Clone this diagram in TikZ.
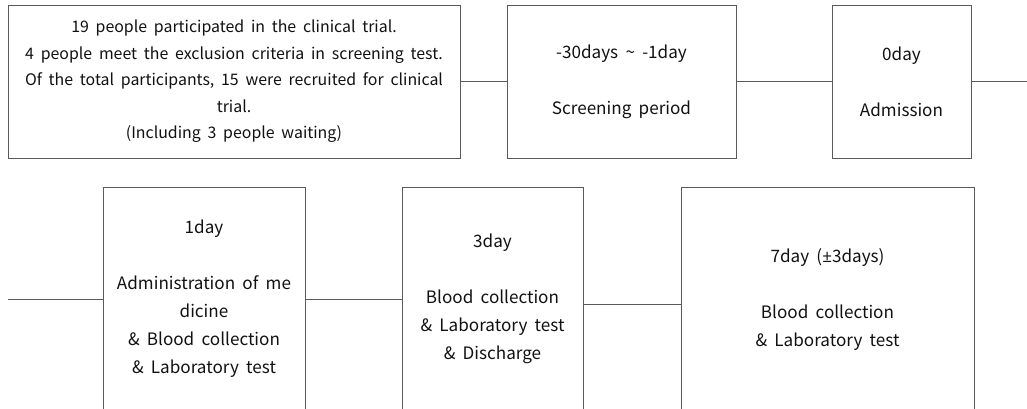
\documentclass[tikz,border=0pt]{standalone}
\usepackage{fontspec}
\setmainfont[WordSpace={1.9,0.3,0.3}]{Noto Sans CJK KR}
\newfontfamily\pmfont{Open Sans}
\definecolor{linegray}{HTML}{5A5A5A}
\definecolor{txt}{HTML}{111111}
\begin{document}
\begin{tikzpicture}[x=1pt,y=-1pt,
  box/.style={draw=linegray, line width=0.8pt, inner sep=0pt, align=center, text=txt,
    font=\fontsize{17.1}{28}\selectfont},
  conn/.style={draw=linegray, line width=0.8pt}]
\useasboundingbox (0,0) rectangle (1027,408);
\clip (0,0) rectangle (1027,408);
% top row
\node[box, minimum width=452pt, minimum height=153pt,
  font=\fontsize{15.9}{26.5}\selectfont] (b1) at (234,81.5)
  {19 people participated in the clinical trial.\\
   4 people meet the exclusion criteria in screening test.\\
   Of the total participants, 15 were recruited for clinical\\
   trial.\\
   (Including 3 people waiting)};
\node[box, minimum width=229pt, minimum height=153pt] (b2) at (621.5,81.5)
  {-30days \textasciitilde{} -1day\\[28pt] Screening period};
\node[box, minimum width=139pt, minimum height=153pt] (b3) at (901.5,81.5)
  {0day\\[28pt] Admission};
% bottom row
\node[box, minimum width=202pt, minimum height=224pt] (b4) at (204,299)
  {1day\\[28pt] Administration of me\\ dicine\\ \& Blood collection\\ \& Laboratory test};
\node[box, minimum width=181pt, minimum height=224pt] (b5) at (492.5,299)
  {3day\\[28pt] Blood collection\\ \& Laboratory test\\ \& Discharge};
\node[box, minimum width=293pt, minimum height=224pt] (b6) at (827.5,299)
  {7day ({\pmfont ±}3days)\\[28pt] Blood collection\\ \& Laboratory test};
% free ends
\coordinate (rEnd) at (1027,81.5);
\coordinate (lEnd) at (8,299);
% connectors
\draw[conn] (b1) -- (b2);
\draw[conn] (b2) -- (b3);
\draw[conn] (b3.east) -- (rEnd);
\draw[conn] (lEnd) -- (b4.west);
\draw[conn] (b4) -- (b5);
\draw[conn] ([yshift=-5pt]b5.east) -- ([yshift=-5pt]b6.west);
\end{tikzpicture}
\end{document}
